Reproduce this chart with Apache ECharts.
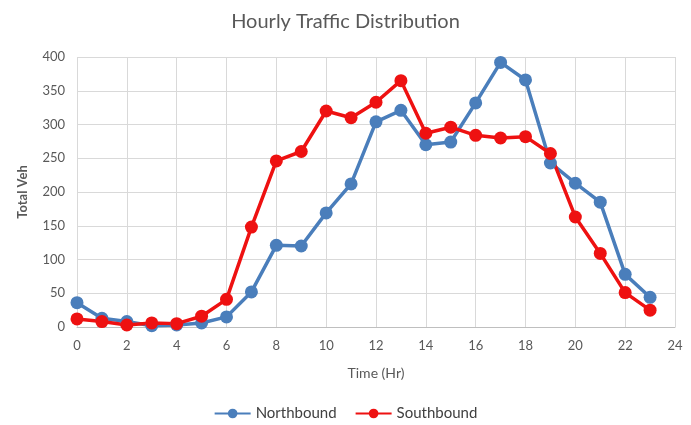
<!DOCTYPE html>
<html><head><meta charset="utf-8">
<script src="https://cdn.jsdelivr.net/npm/echarts@6/dist/echarts.min.js"></script>
<style>html,body{margin:0;padding:0;background:#fff}#c{width:691px;height:425px}</style>
</head><body><div id="c"></div>
<script>
const hours = [0,1,2,3,4,5,6,7,8,9,10,11,12,13,14,15,16,17,18,19,20,21,22,23];
const northbound = [36,13,8,2,3,6,15,52,121,120,169,212,304,321,270,274,332,392,366,243,213,185,78,44];
const southbound = [12,8,3,6,5,16,41,148,246,260,320,310,333,365,287,296,284,280,282,257,163,109,51,25];
const xTicks = {min:0, max:24, interval:2};
const yTicks = {min:0, max:400, interval:50};

const font = 'Lato, "Open Sans", sans-serif';
const chart = echarts.init(document.getElementById('c'));
const mk = (name, vals, color) => ({
  name, type:'line', data: hours.map((h,i)=>[h, vals[i]]),
  symbol:'circle', symbolSize:13, lineStyle:{width:3.5, color}, itemStyle:{color},
  emphasis:{disabled:true}, animation:false
});
chart.setOption({
  animation:false,
  title:{text:'Hourly Traffic Distribution', left:'center', top:7,
    textStyle:{fontFamily:font, fontSize:20, fontWeight:'normal', color:'#595959'}},
  grid:{left:77, right:16, top:57, bottom:98},
  legend:{top:404, left:'center', itemWidth:36, itemHeight:12, itemGap:18, padding:2,
    textStyle:{fontFamily:font, fontSize:15, color:'#404040'},
    data:['Northbound','Southbound']},
  xAxis:{type:'value', min:xTicks.min, max:xTicks.max, interval:xTicks.interval,
    name:'Time (Hr)', nameLocation:'middle', nameGap:39,
    nameTextStyle:{fontFamily:font, fontSize:14, color:'#595959'},
    axisLine:{lineStyle:{color:'#bfbfbf'}}, axisTick:{show:false},
    axisLabel:{fontFamily:font, fontSize:13, color:'#595959', margin:12},
    splitLine:{show:true, lineStyle:{color:'#d9d9d9'}}},
  yAxis:{type:'value', min:yTicks.min, max:yTicks.max, interval:yTicks.interval,
    name:'Total Veh', nameLocation:'middle', nameGap:48, nameRotate:90,
    nameTextStyle:{fontFamily:font, fontSize:13, color:'#595959', fontWeight:'bold'},
    axisLine:{show:false}, axisTick:{show:false},
    axisLabel:{fontFamily:font, fontSize:13, color:'#595959', margin:12},
    splitLine:{show:true, lineStyle:{color:'#d9d9d9'}}},
  series:[mk('Northbound', northbound, '#4a7ebb'), mk('Southbound', southbound, '#ee1111')]
});
</script></body></html>
